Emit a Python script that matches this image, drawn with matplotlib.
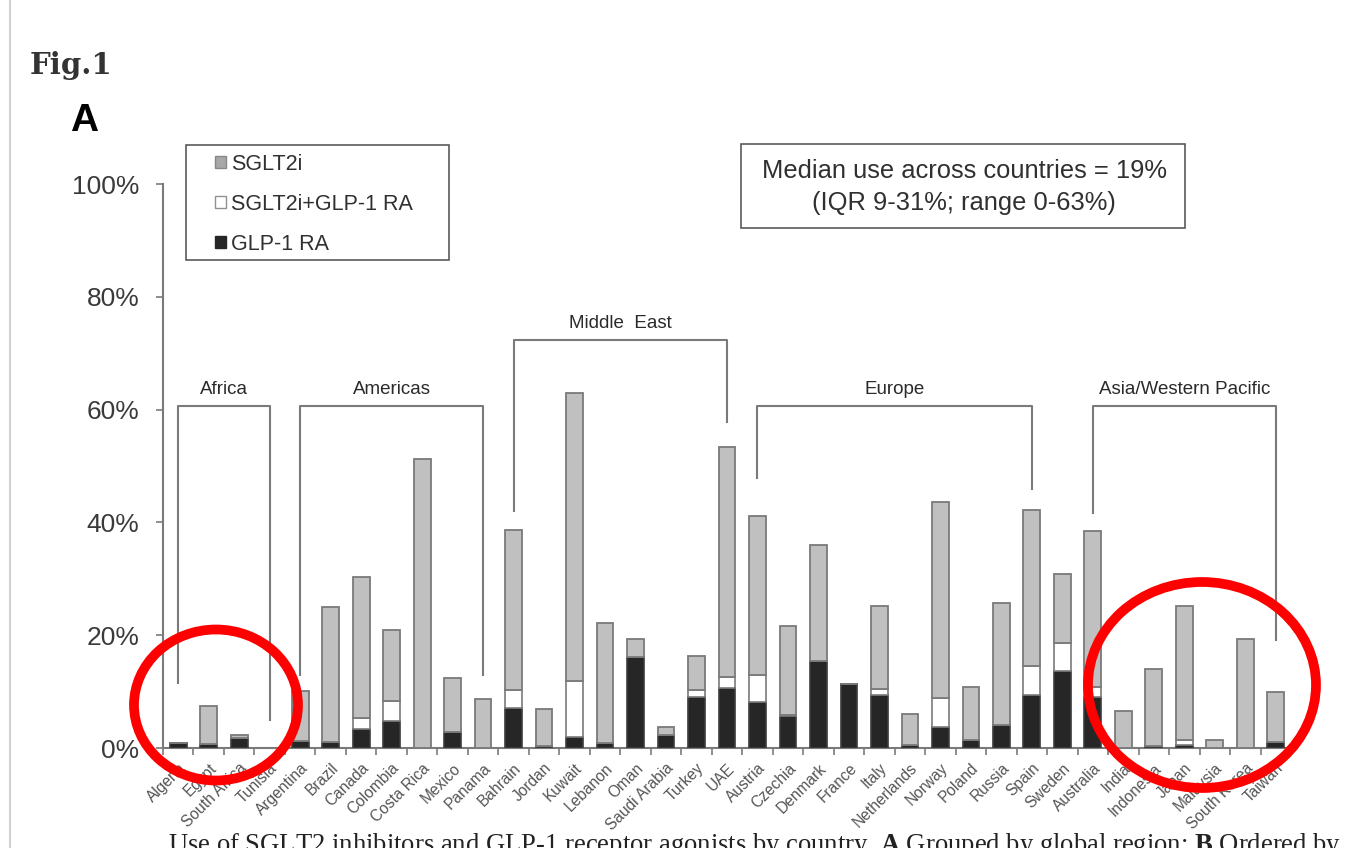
import numpy as np
import matplotlib
matplotlib.use("Agg")
from matplotlib import pyplot as plt
from matplotlib.patches import Patch, Rectangle, Ellipse
from matplotlib.lines import Line2D

plt.rcParams["font.family"] = ["Liberation Sans", "DejaVu Sans"]
plt.rcParams["mathtext.fontset"] = "custom"
plt.rcParams["mathtext.bf"] = "Liberation Serif:bold"

countries = ["Algeria", "Egypt", "South Africa", "Tunisia",
             "Argentina", "Brazil", "Canada", "Colombia", "Costa Rica", "Mexico", "Panama",
             "Bahrain", "Jordan", "Kuwait", "Lebanon", "Oman", "Saudi Arabia", "Turkey", "UAE",
             "Austria", "Czechia", "Denmark", "France", "Italy", "Netherlands", "Norway",
             "Poland", "Russia", "Spain", "Sweden",
             "Australia", "India", "Indonesia", "Japan", "Malaysia", "South Korea", "Taiwan"]

# % of patients
glp1 = [0.8, 0.7, 1.7, 0, 1.3, 1.0, 3.3, 4.7, 0, 2.8, 0, 7.1, 0.4, 2.0, 0.9, 16.2, 2.3, 9.1, 10.6,
        8.2, 5.6, 15.4, 11.3, 9.4, 0.5, 3.7, 1.4, 4.1, 9.4, 13.7, 9.0, 0, 0.4, 0.5, 0, 0, 1.1]
combo = [0, 0, 0, 0, 0, 0, 2.1, 3.6, 0, 0, 0, 3.1, 0, 9.8, 0, 0, 0, 1.1, 2.0,
         4.7, 0.3, 0, 0, 1.0, 0, 5.2, 0, 0, 5.1, 4.9, 1.8, 0, 0, 1.0, 0, 0, 0]
sglt2 = [0, 6.7, 0.6, 0, 8.8, 24.0, 24.9, 12.7, 51.2, 9.7, 8.6, 28.5, 6.6, 51.1, 21.3, 3.2, 1.5, 6.1, 40.8,
         28.3, 15.8, 20.6, 0, 14.7, 5.6, 34.8, 9.4, 21.6, 27.7, 12.2, 27.6, 6.6, 13.6, 23.6, 1.4, 19.4, 8.9]

# region brackets: name, first bar, last bar, left leg end, right leg end, bracket height
regions = ["Africa", "Americas", "Middle  East", "Europe", "Asia/Western Pacific"]
reg_start = [0, 4, 11, 19, 30]
reg_end = [3, 10, 18, 28, 36]
reg_left_leg = [11.5, 13, 42, 47.8, 41.7]
reg_right_leg = [5, 13, 57.8, 46, 19.1]
reg_top = [60.6, 60.6, 72.3, 60.6, 60.6]

yticks = [0, 20, 40, 60, 80, 100]

W, H = 1370, 848
fig = plt.figure(figsize=(W / 100, H / 100), dpi=100)
ax = fig.add_axes([163 / W, 100 / H, 1128 / W, 564 / H])

x = np.arange(len(countries))
g = np.array(glp1)
c = np.array(combo)
s = np.array(sglt2)
edge = "#7a7a7a"
bw = 0.55
ax.bar(x, g, bw, color="#262626", edgecolor="#3c3c3c", linewidth=1.2, zorder=3)
ax.bar(x, c, bw, bottom=g, color="white", edgecolor=edge, linewidth=1.2, zorder=3)
ax.bar(x, s, bw, bottom=g + c, color="#c0c0c0", edgecolor=edge, linewidth=1.3, zorder=3)

ax.set_xlim(-0.5, len(countries) - 0.5)
ax.set_ylim(0, 100)
ax.set_yticks(yticks)
ax.set_yticklabels([f"{v}%" for v in yticks], fontsize=19, color="#3a3a3a")
ax.tick_params(axis="y", length=5, width=1.2, color=edge, pad=12)
ax.set_xticks(x)
ax.set_xticklabels(countries, rotation=45, ha="right", rotation_mode="anchor",
                   fontsize=11.2, color="#555555")
ax.tick_params(axis="x", which="major", length=0, pad=9)
ax.set_xticks(np.arange(-0.5, len(countries), 1), minor=True)
ax.tick_params(axis="x", which="minor", length=5, width=1.2, color=edge)
for side in ["top", "right"]:
    ax.spines[side].set_visible(False)
for side in ["left", "bottom"]:
    ax.spines[side].set_color(edge)
    ax.spines[side].set_linewidth(1.5)

for name, a, b, ll, rl, top in zip(regions, reg_start, reg_end, reg_left_leg, reg_right_leg, reg_top):
    ax.plot([a, a, b, b], [ll, top, top, rl], color=edge, lw=1.5, zorder=2, clip_on=False)
    ax.text((a + b) / 2, top + 1.5, name, ha="center", va="bottom", fontsize=13.5, color="#2a2a2a")

# legend box
fig.add_artist(Rectangle((186 / W, 1 - 260 / H), 263 / W, 115 / H, transform=fig.transFigure,
                         fill=False, edgecolor="#5a5a5a", lw=1.2))
handles = [Patch(facecolor="#a8a8a8", edgecolor="#888888"),
           Patch(facecolor="white", edgecolor="#909090"),
           Patch(facecolor="#262626", edgecolor="#262626")]
fig.legend(handles, ["SGLT2i", "SGLT2i+GLP-1 RA", "GLP-1 RA"], loc="upper left",
           bbox_to_anchor=(215 / W, 1 - 154 / H), frameon=False, fontsize=15.5,
           handlelength=0.5, handleheight=0.5, handletextpad=0.25, labelspacing=0.88,
           borderpad=0, borderaxespad=0, labelcolor="#303030")

# median box
fig.add_artist(Rectangle((741 / W, 1 - 228 / H), 444 / W, 84 / H, transform=fig.transFigure,
                         fill=False, edgecolor="#5a5a5a", lw=1.2))
fig.text(964 / W, 1 - 171 / H, "Median use across countries = 19%", ha="center", va="center",
         fontsize=18.4, color="#303030")
fig.text(964 / W, 1 - 203 / H, "(IQR 9-31%; range 0-63%)", ha="center", va="center",
         fontsize=18.4, color="#303030")

# page decorations
fig.add_artist(Line2D([10 / W, 10 / W], [0, 1], transform=fig.transFigure, color="#d0d0d0", lw=1.5))
fig.text(30 / W, 1 - 65 / H, "Fig.1", fontsize=21, fontweight="bold", family="DejaVu Serif",
         color="#333333", va="center", ha="left")
fig.text(70 / W, 1 - 121 / H, "A", fontsize=28, fontweight="bold", color="black", va="center", ha="left")
fig.text(168 / W, -4.5 / H, "Use of SGLT2 inhibitors and GLP-1 receptor agonists by country. "
         r"$\mathbf{A}$ Grouped by global region; $\mathbf{B}$ Ordered by",
         fontsize=19.2, family="Liberation Serif", color="#222222", ha="left", va="baseline")

# red circles
fig.add_artist(Ellipse((216 / W, 1 - 705 / H), 164 / W, 151 / H, transform=fig.transFigure,
                       fill=False, edgecolor="red", lw=7))
fig.add_artist(Ellipse((1202 / W, 1 - 685 / H), 228 / W, 206 / H, transform=fig.transFigure,
                       fill=False, edgecolor="red", lw=7))

fig.savefig("out.png", dpi=100)
